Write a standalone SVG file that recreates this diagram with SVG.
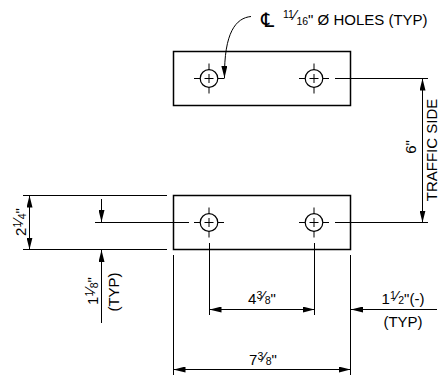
<svg xmlns="http://www.w3.org/2000/svg" width="439" height="375" viewBox="0 0 439 375">
<style>
.plate{fill:#fff;stroke:#000;stroke-width:1.5}
.hole{fill:none;stroke:#000;stroke-width:1.2}
.thin{fill:none;stroke:#000;stroke-width:1}
.line{fill:none;stroke:#000;stroke-width:1}
text{font-family:"Liberation Sans",Arial,sans-serif;font-size:15px;fill:#000}
.sm{font-size:10.500px}
</style>
<defs>
<marker id="a" viewBox="0 0 12 6" refX="12" refY="3" markerWidth="12" markerHeight="6" markerUnits="userSpaceOnUse" orient="auto-start-reverse"><path d="M0 0L12 3L0 6Z" fill="#000"/></marker>
<g id="h"><circle r="8.800" class="hole"/><path class="thin" d="M-15 0H-8.800M-4.500 0H4.500M8.800 0H15M0-15V-8.800M0-4.500V4.500M0 8.800V15"/></g>
</defs>
<g id="plate-top"><rect class="plate" x="173.500" y="51.500" width="177" height="54"/><use href="#h" x="209" y="78.500"/><use href="#h" x="314" y="78.500"/></g>
<g id="plate-bottom"><rect class="plate" x="173.500" y="195.500" width="177" height="54"/><use href="#h" x="209" y="222.500"/><use href="#h" x="314" y="222.500"/></g>
<g id="connectors">
<path class="line" d="M335 78.500H428M335 222.500H428M23 195.500H167M23 249.500H167M95 222.500H189M173.500 255V375M209.500 243V315M314.500 243V315M350.500 255V375"/>
<path class="line" marker-start="url(#a)" marker-end="url(#a)" d="M422.500 78.500V222.500"/>
<path class="line" marker-start="url(#a)" marker-end="url(#a)" d="M29.500 195.500V249.500"/>
<path class="line" marker-end="url(#a)" d="M101.500 199V222"/>
<path class="line" marker-end="url(#a)" d="M101.500 323V250"/>
<path class="line" marker-start="url(#a)" marker-end="url(#a)" d="M209.500 309.500H314.500"/>
<path class="line" marker-start="url(#a)" marker-end="url(#a)" d="M173.500 369.500H350.500"/>
<path class="line" marker-end="url(#a)" d="M437 309.500H351"/>
<path class="line" marker-end="url(#a)" d="M251 16.500C236 18 224 32 224.500 78"/>
<path class="line" d="M219 78.500H224.500"/>
</g>
<g id="label-holes"><text x="261" y="27" style="font-family:'DejaVu Sans',sans-serif;font-size:20px">℄</text><text x="283" y="25"><tspan class="sm" dy="-7">11</tspan><tspan dy="2">⁄</tspan><tspan class="sm" dy="5">16</tspan><tspan dy="0">" Ø HOLES (TYP)</tspan></text></g>
<g id="label-6"><text transform="translate(416 147) rotate(-90)" text-anchor="middle">6"</text></g>
<g id="label-traffic"><text transform="translate(437 150) rotate(-90)" text-anchor="middle">TRAFFIC SIDE</text></g>
<g id="label-2-1-4"><text transform="translate(26 222) rotate(-90)" text-anchor="middle">2<tspan class="sm" dy="-5">1</tspan><tspan dy="2">⁄</tspan><tspan class="sm" dy="3">4</tspan>"</text></g>
<g id="label-1-1-8"><text transform="translate(98 291) rotate(-90)" text-anchor="middle">1<tspan class="sm" dy="-5">1</tspan><tspan dy="2">⁄</tspan><tspan class="sm" dy="3">8</tspan>"</text></g>
<g id="label-typ-left"><text transform="translate(119 292) rotate(-90)" text-anchor="middle">(TYP)</text></g>
<g id="label-4-3-8"><text x="262" y="304" text-anchor="middle">4<tspan class="sm" dy="-5">3</tspan><tspan dy="2">⁄</tspan><tspan class="sm" dy="3">8</tspan>"</text></g>
<g id="label-7-3-8"><text x="263" y="365" text-anchor="middle">7<tspan class="sm" dy="-5">3</tspan><tspan dy="2">⁄</tspan><tspan class="sm" dy="3">8</tspan>"</text></g>
<g id="label-1-1-2"><text x="403" y="304" text-anchor="middle">1<tspan class="sm" dy="-5">1</tspan><tspan dy="2">⁄</tspan><tspan class="sm" dy="3">2</tspan>"(-)</text></g>
<g id="label-typ-right"><text x="403" y="327" text-anchor="middle">(TYP)</text></g>
</svg>
